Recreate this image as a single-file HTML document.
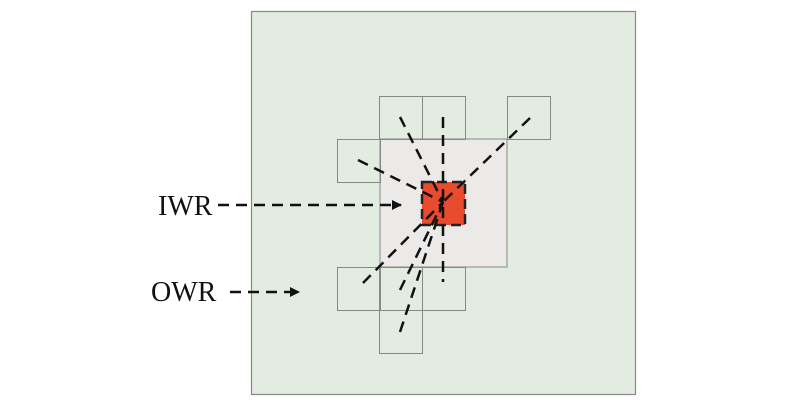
<!DOCTYPE html>
<html><head><style>html,body{margin:0;padding:0;background:#fff}svg{display:block}</style></head>
<body>
<svg width="800" height="410" viewBox="0 0 800 410" xmlns="http://www.w3.org/2000/svg">
<defs><marker id="a" viewBox="0 0 10 10" refX="9" refY="5" markerWidth="4" markerHeight="4" orient="auto"><path d="M0,0 L10,5 L0,10 z" fill="#111"/></marker></defs>
<rect x="251.5" y="11.5" width="384" height="383" fill="#e3ece0" stroke="#888" stroke-width="1.2"/>
<rect x="380" y="139" width="127" height="128" fill="#ece9e9" stroke="#888" stroke-width="1"/>
<g fill="none" stroke="#888" stroke-width="1">
<rect x="379.5" y="96.5" width="43" height="43"/>
<rect x="422.5" y="96.5" width="43" height="43"/>
<rect x="507.5" y="96.5" width="43" height="43"/>
<rect x="337.5" y="139.5" width="43" height="43"/>
<rect x="337.5" y="267.5" width="43" height="43"/>
<rect x="379.5" y="267.5" width="43" height="43"/>
<rect x="422.5" y="267.5" width="43" height="43"/>
<rect x="379.5" y="310.5" width="43" height="43"/>
</g>
<rect x="422" y="182" width="43" height="43" fill="#e84b2e" stroke="#222" stroke-width="2.5" stroke-dasharray="10,5"/>
<g stroke="#111" stroke-width="2.5" stroke-dasharray="11,7" fill="none">
<line x1="400" y1="117" x2="443" y2="202"/>
<line x1="443" y1="117" x2="443" y2="282"/>
<line x1="358" y1="160" x2="443" y2="202"/>
<line x1="530" y1="118" x2="443" y2="202"/>
<line x1="363" y1="283" x2="443" y2="202"/>
<line x1="400" y1="290" x2="443" y2="202"/>
<line x1="400" y1="332" x2="443" y2="202"/>
<line x1="218" y1="205" x2="401" y2="205" marker-end="url(#a)"/>
<line x1="230" y1="292" x2="299" y2="292" marker-end="url(#a)"/>
</g>
<g font-family="Liberation Serif, serif" font-size="28" fill="#111">
<text x="158" y="215">IWR</text>
<text x="151" y="301">OWR</text>
</g>
</svg>
</body></html>
